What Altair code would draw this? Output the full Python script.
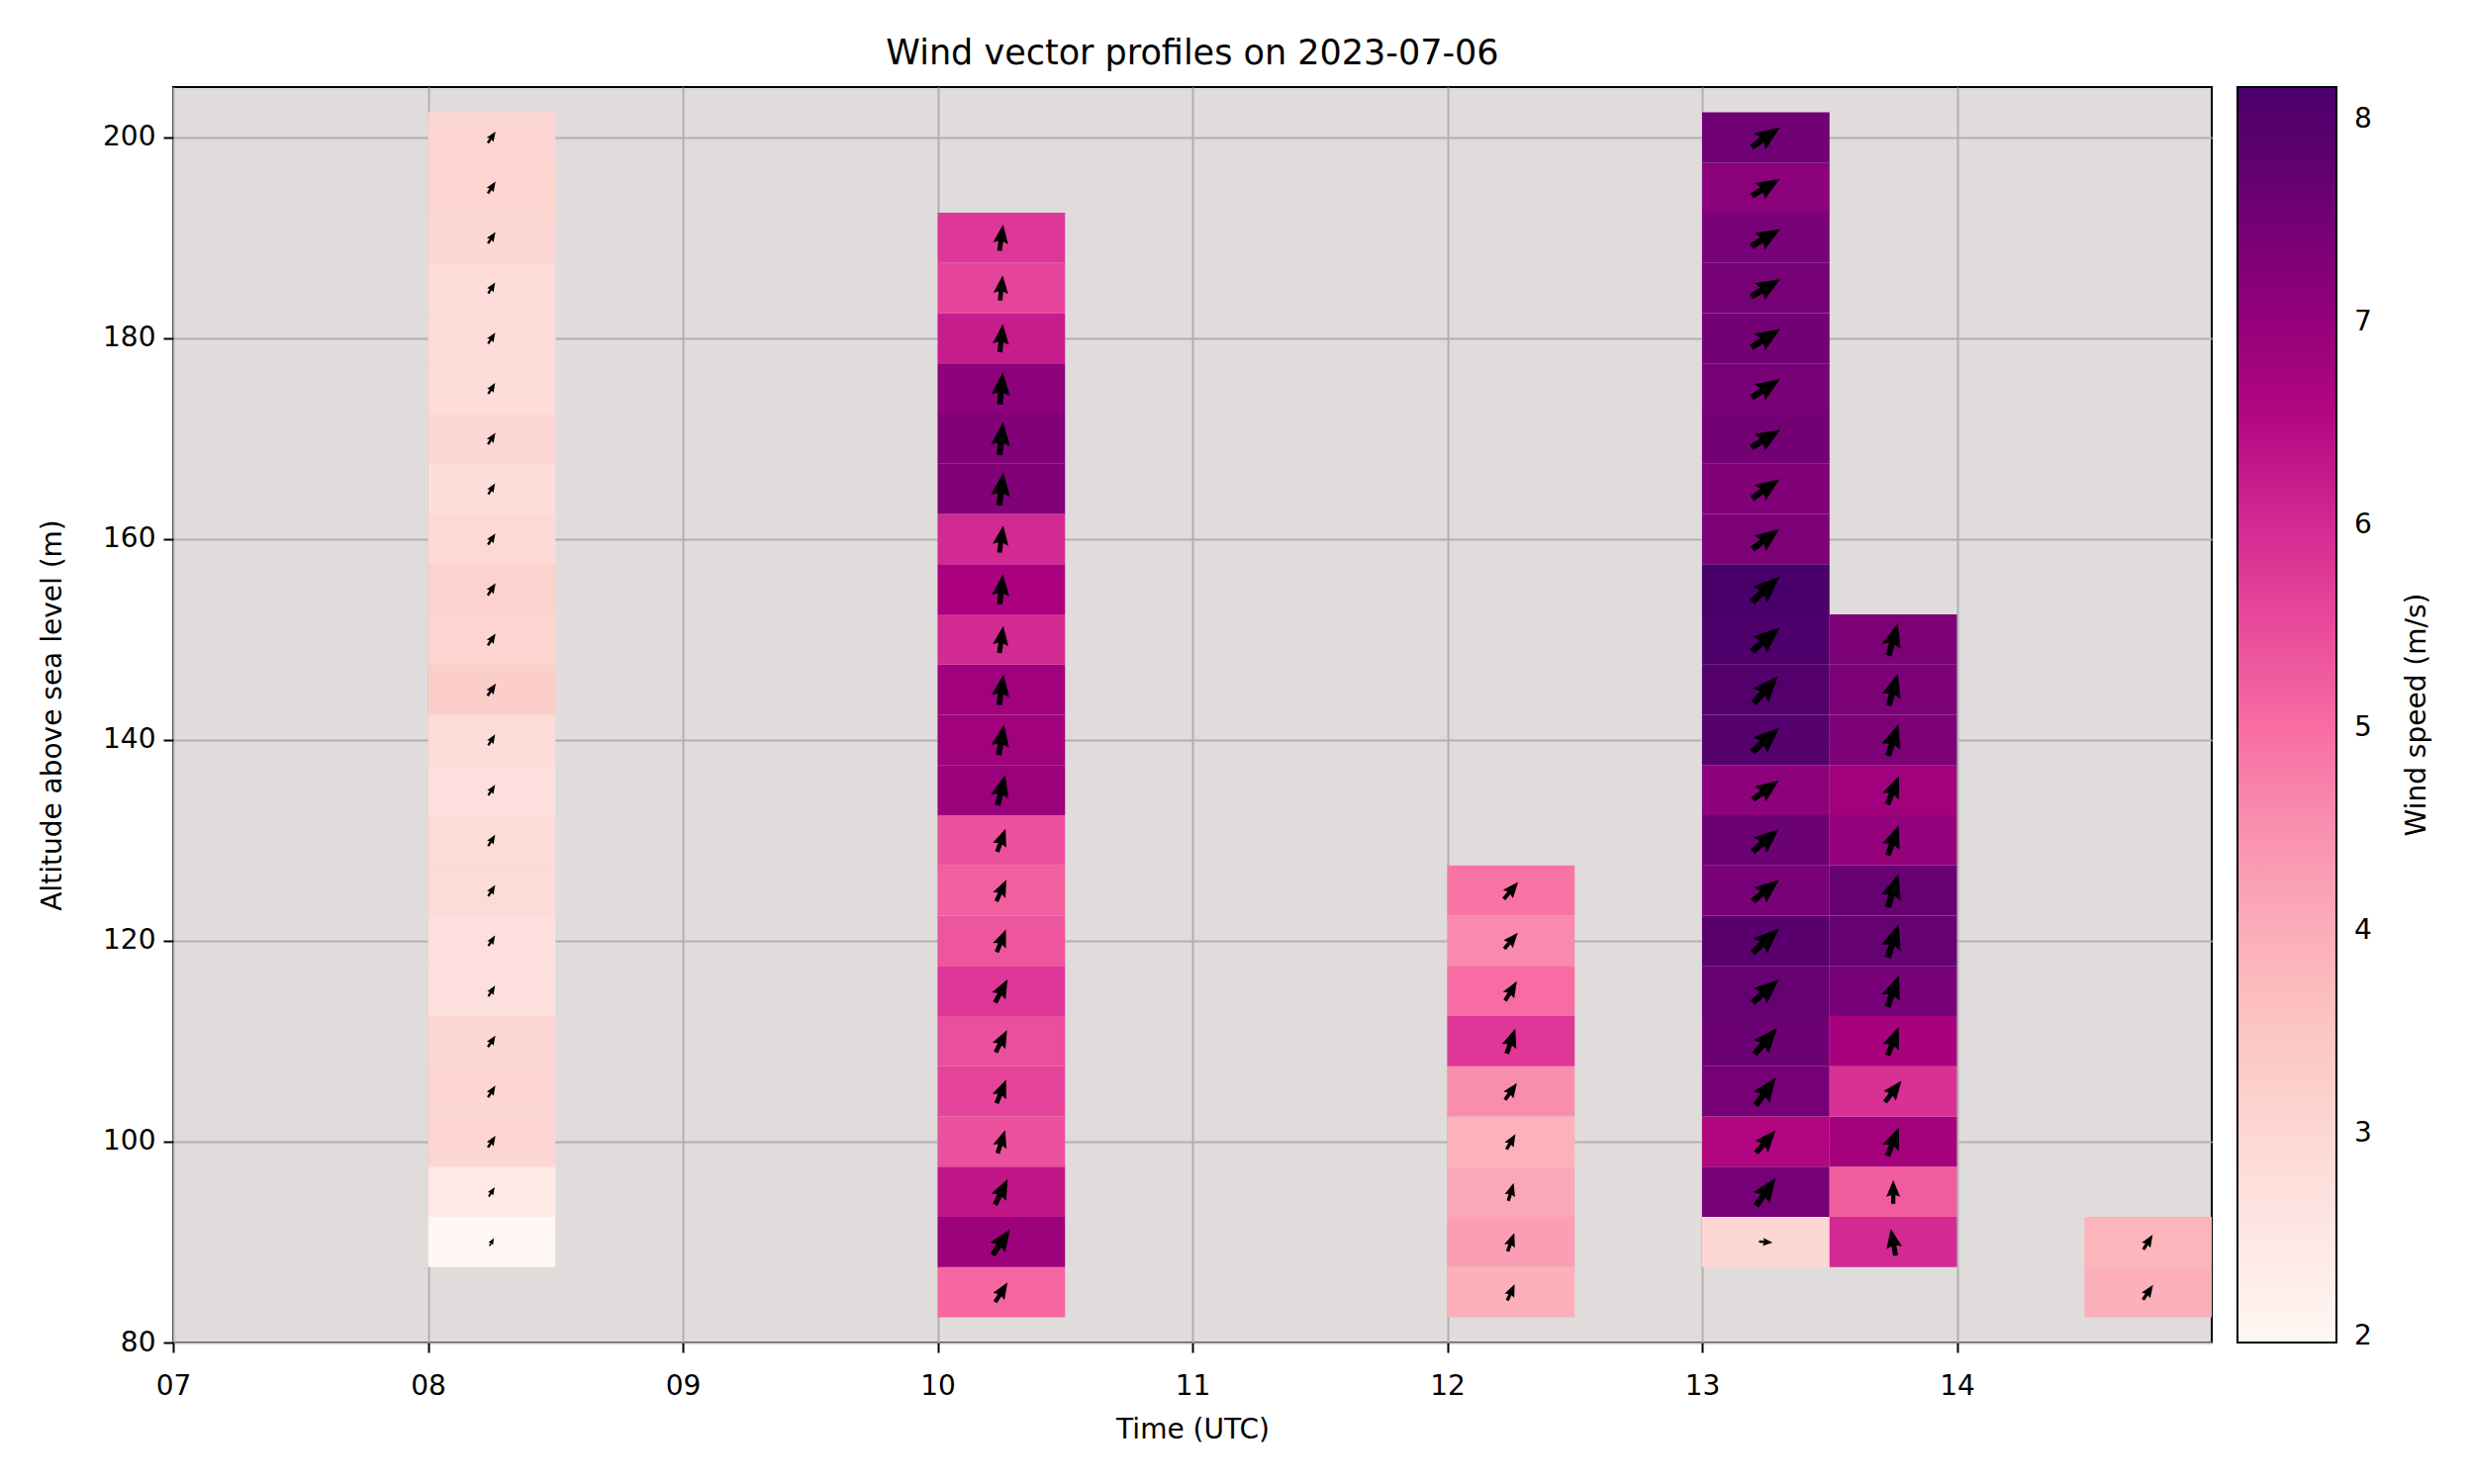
import altair as alt
import pandas as pd

FONT = "DejaVu Sans"

title_text = "Wind vector profiles on 2023-07-06"
x_title = "Time (UTC)"
y_title = "Altitude above sea level (m)"
colorbar_title = "Wind speed (m/s)"

x_ticks = [7, 8, 9, 10, 11, 12, 13, 14]
y_ticks = [80, 100, 120, 140, 160, 180, 200]
colorbar_ticks = [2, 3, 4, 5, 6, 7, 8]

# RdPu colour ramp
rdpu_colors = ["#fff7f3", "#fde0dd", "#fcc5c0", "#fa9fb5", "#f768a1",
               "#dd3497", "#ae017e", "#7a0177", "#49006a"]

# profile start times (UTC), each profile covers 30 minutes
profile_starts = ["08:00", "10:00", "12:00", "13:00", "13:30", "14:30"]

alt_0800 = [90, 95, 100, 105, 110, 115, 120, 125, 130, 135, 140, 145, 150, 155, 160, 165, 170, 175, 180, 185, 190, 195, 200]
speed_0800 = [1.97, 2.45, 3.05, 3.05, 3.0, 2.75, 2.75, 2.9, 2.9, 2.75, 2.85, 3.25, 3.1, 3.15, 2.95, 2.8, 3.0, 2.85, 2.85, 2.85, 3.0, 3.1, 3.05]
dir_0800 = [30, 32, 33, 32, 33, 32, 33, 32, 32, 33, 32, 34, 33, 33, 33, 32, 33, 32, 33, 32, 33, 33, 34]

alt_1000 = [85, 90, 95, 100, 105, 110, 115, 120, 125, 130, 135, 140, 145, 150, 155, 160, 165, 170, 175, 180, 185, 190]
speed_1000 = [5.1, 6.85, 6.3, 5.4, 5.6, 5.45, 5.8, 5.35, 5.2, 5.4, 6.9, 6.8, 6.8, 6.0, 6.65, 6.0, 7.3, 7.3, 7.1, 6.2, 5.6, 5.8]
dir_1000 = [32, 34, 26, 18, 22, 27, 28, 22, 25, 20, 14, 10, 8, 8, 6, 8, 7, 6, 5, 6, 6, 8]

alt_1200 = [85, 90, 95, 100, 105, 110, 115, 120, 125]
speed_1200 = [3.95, 4.3, 4.1, 3.9, 4.55, 5.8, 5.0, 4.6, 4.9]
dir_1200 = [24, 20, 17, 30, 35, 19, 31, 40, 40]

alt_1300 = [90, 95, 100, 105, 110, 115, 120, 125, 130, 135, 140, 145, 150, 155, 160, 165, 170, 175, 180, 185, 190, 195, 200]
speed_1300 = [3.0, 7.45, 6.55, 7.45, 7.6, 7.7, 7.9, 7.4, 7.6, 7.1, 7.95, 8.0, 8.1, 8.16, 7.35, 7.3, 7.5, 7.4, 7.5, 7.45, 7.4, 7.15, 7.55]
dir_1300 = [95, 35, 41, 36, 41, 49, 48, 51, 49, 54, 48, 42, 49, 48, 53, 55, 58, 57, 57, 59, 59, 59, 55]

alt_1330 = [90, 95, 100, 105, 110, 115, 120, 125, 130, 135, 140, 145, 150]
speed_1330 = [6.0, 5.25, 6.75, 5.9, 6.7, 7.4, 7.7, 7.7, 7.0, 6.8, 7.35, 7.35, 7.35]
dir_1330 = [350, 0, 22, 38, 21, 20, 18, 18, 20, 22, 18, 16, 16]

alt_1430 = [85, 90]
speed_1430 = [3.95, 3.85]
dir_1430 = [34, 32]

profiles = [
    (profile_starts[0], alt_0800, speed_0800, dir_0800),
    (profile_starts[1], alt_1000, speed_1000, dir_1000),
    (profile_starts[2], alt_1200, speed_1200, dir_1200),
    (profile_starts[3], alt_1300, speed_1300, dir_1300),
    (profile_starts[4], alt_1330, speed_1330, dir_1330),
    (profile_starts[5], alt_1430, speed_1430, dir_1430),
]

rows = []
for start, alts, spds, dirs in profiles:
    hh, mm = start.split(":")
    t0 = int(hh) + int(mm) / 60.0
    for a, s, d in zip(alts, spds, dirs):
        rows.append({"start": t0, "altitude": a, "speed": s, "direction": d})
df = pd.DataFrame(rows)

smin = float(df["speed"].min())
smax = float(df["speed"].max())
n = len(rdpu_colors)
color_domain = [smin + i * (smax - smin) / (n - 1) for i in range(n)]

# quiver-like arrow (large head, short shaft), pointing up, centred on the origin
ARROW = "M0,-1 L0.58,0.42 L0.18,0.28 L0.18,1 L-0.18,1 L-0.18,0.28 L-0.58,0.42 Z"
PX_PER_MS = 4.6

W, H = 2060, 1269

xs = alt.Scale(domain=[7, 15], nice=False, zero=False)
ys = alt.Scale(domain=[80, 205], nice=False, zero=False)

base = alt.Chart(df).transform_calculate(
    t_end="datum.start + 0.5",
    t_mid="datum.start + 0.25",
    a_lo="datum.altitude - 2.5",
    a_hi="datum.altitude + 2.5",
)

rects = base.mark_rect(strokeWidth=0).encode(
    x=alt.X("start:Q", scale=xs,
            axis=alt.Axis(values=x_ticks, title=x_title, labelFlush=False,
                          labelExpr="datum.value < 10 ? '0' + datum.value : '' + datum.value",
                          labelPadding=20, titlePadding=16)),
    x2="t_end:Q",
    y=alt.Y("a_lo:Q", scale=ys,
            axis=alt.Axis(values=y_ticks, title=y_title, titlePadding=36)),
    y2="a_hi:Q",
    color=alt.Color("speed:Q",
                    scale=alt.Scale(domain=color_domain, range=rdpu_colors,
                                    interpolate="rgb"),
                    legend=alt.Legend(title=None, orient="right", offset=26,
                                      direction="vertical", format="d",
                                      gradientLength=H, gradientThickness=100,
                                      gradientStrokeColor="black", gradientStrokeWidth=2,
                                      values=colorbar_ticks, labelFontSize=28,
                                      labelFont=FONT, labelColor="black",
                                      labelOffset=18, labelOverlap=False, padding=0)),
)

arrows = base.mark_point(shape=ARROW, filled=True, color="black", opacity=1,
                         strokeWidth=0).encode(
    x="t_mid:Q",
    y="altitude:Q",
    size=alt.Size("speed:Q",
                  scale=alt.Scale(type="pow", exponent=2, domain=[0, smax],
                                  range=[0, (PX_PER_MS * smax) ** 2]),
                  legend=None),
    angle=alt.Angle("direction:Q", scale=alt.Scale(domain=[0, 360], range=[0, 360])),
)

cb_title = alt.Chart(pd.DataFrame({"label": [colorbar_title]})).mark_text(
    angle=270, fontSize=28, font=FONT, align="center", baseline="middle", color="black"
).encode(x=alt.value(2268), y=alt.value(H / 2), text="label:N")

chart = alt.layer(rects, arrows, cb_title).properties(
    width=W, height=H,
    autosize=alt.AutoSizeParams(type="none"),
    padding={"left": 167, "top": 80, "right": 257, "bottom": 135},
    title=alt.TitleParams(title_text, fontSize=35, font=FONT, fontWeight="normal",
                          color="black", anchor="middle", offset=16),
).configure(font=FONT).configure_view(
    fill="#e0dcdc", stroke="black", strokeWidth=2
).configure_axis(
    grid=True, gridColor="#b0b0b0", gridWidth=2, domain=False,
    tickColor="black", tickWidth=2, tickSize=10,
    labelFontSize=28, titleFontSize=28, titleFontWeight="normal",
    labelColor="black", titleColor="black", labelPadding=8,
    labelFont=FONT, titleFont=FONT,
)

chart.save("out.html", embed_options={"renderer": "svg", "actions": False})
